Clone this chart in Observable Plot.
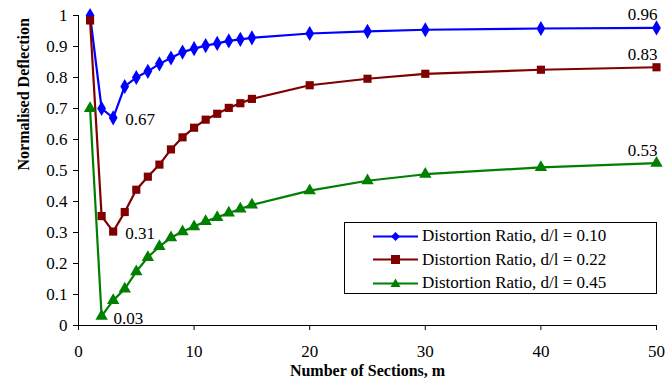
<!DOCTYPE html>
<html>
<head>
<meta charset="utf-8">
<script src="https://cdn.jsdelivr.net/npm/d3@7"></script>
<script src="https://cdn.jsdelivr.net/npm/@observablehq/plot@0.6"></script>
</head>
<body style="margin:0;padding:0;background:#fff;font-family:'Liberation Serif','Times New Roman',serif">
<div id="wrap" style="position:relative;width:667px;height:383px;font-family:'Liberation Serif','Times New Roman',serif">
  <div id="legend" style="position:absolute;left:344px;top:222px;width:311px;height:70px;border:1px solid #000;background:#fff;font-family:'Liberation Serif','Times New Roman',serif;font-size:17px;color:#000;z-index:2">
    <div style="position:absolute;left:28px;top:1px;height:24px;display:flex;align-items:center;white-space:nowrap"><svg width="45" height="21" style="margin-right:4px"><line x1="0" x2="45" y1="10.5" y2="10.5" stroke="#0000ff" stroke-width="2"/><polygon points="22.5,6 27,10.5 22.5,15 18,10.5" fill="#0000ff"/></svg><span style="font-family:'Liberation Serif','Times New Roman',serif">Distortion Ratio, d/l = 0.10</span></div>
    <div style="position:absolute;left:28px;top:24.5px;height:24px;display:flex;align-items:center;white-space:nowrap"><svg width="45" height="21" style="margin-right:4px"><line x1="0" x2="45" y1="10.5" y2="10.5" stroke="#800000" stroke-width="2"/><rect x="18" y="6" width="9" height="9" fill="#800000"/></svg><span style="font-family:'Liberation Serif','Times New Roman',serif">Distortion Ratio, d/l = 0.22</span></div>
    <div style="position:absolute;left:28px;top:48px;height:24px;display:flex;align-items:center;white-space:nowrap"><svg width="45" height="21" style="margin-right:4px"><line x1="0" x2="45" y1="10.5" y2="10.5" stroke="#008000" stroke-width="2"/><polygon points="22.5,5.5 27.5,14 17.5,14" fill="#008000"/></svg><span style="font-family:'Liberation Serif','Times New Roman',serif">Distortion Ratio, d/l = 0.45</span></div>
  </div>
</div>
<script>
const sections = [1,2,3,4,5,6,7,8,9,10,11,12,13,14,15,20,25,30,40,50];
const seriesNames = ["Distortion Ratio, d/l = 0.10", "Distortion Ratio, d/l = 0.22", "Distortion Ratio, d/l = 0.45"];
const ratio010 = [1.0,0.70,0.67,0.771,0.80,0.82,0.844,0.863,0.882,0.893,0.903,0.91,0.918,0.923,0.928,0.942,0.949,0.954,0.958,0.96];
const ratio022 = [0.984,0.353,0.303,0.366,0.438,0.48,0.519,0.568,0.607,0.638,0.664,0.683,0.702,0.717,0.731,0.775,0.796,0.812,0.825,0.833];
const ratio045 = [0.70,0.03,0.081,0.118,0.174,0.22,0.255,0.283,0.303,0.319,0.336,0.349,0.363,0.376,0.389,0.435,0.467,0.488,0.510,0.524];
const colors = ["#0000ff", "#800000", "#008000"];
const symbols = ["diamond", "square", "triangle"];
const xTicks = [0,10,20,30,40,50];
const yTicks = [0,0.1,0.2,0.3,0.4,0.5,0.6,0.7,0.8,0.9,1];
const minLabels = [
  {x: 3, y: 0.67, text: "0.67"},
  {x: 3, y: 0.303, text: "0.31"},
  {x: 2, y: 0.03, text: "0.03"}
];
const endLabels = [
  {x: 50, y: 0.96, text: "0.96"},
  {x: 50, y: 0.833, text: "0.83"},
  {x: 50, y: 0.524, text: "0.53"}
];

const allSeries = [ratio010, ratio022, ratio045];
const rows = allSeries.flatMap((vals, i) => vals.map((v, j) => ({x: sections[j], y: v, s: seriesNames[i], i})));

const font = "'Liberation Serif', 'Times New Roman', serif";
const marks = [];
allSeries.forEach((vals, i) => {
  const d = rows.filter(r => r.i === i);
  marks.push(Plot.line(d, {x: "x", y: "y", stroke: colors[i], strokeWidth: 2.2}));
});
allSeries.forEach((vals, i) => {
  const d = rows.filter(r => r.i === i);
  marks.push(Plot.dot(d, {x: "x", y: "y", symbol: symbols[i], fill: colors[i], r: 4.6}));
});
marks.push(
  Plot.ruleY([0], {stroke: "#000", strokeWidth: 1}),
  Plot.ruleX([0], {stroke: "#000", strokeWidth: 1}),
  Plot.axisX(xTicks, {tickSize: 5, tickPadding: 14, fontSize: 17, fontFamily: font, fill: "#000", stroke: "#000", label: null}),
  Plot.axisY(yTicks, {tickSize: 5, tickPadding: 6, fontSize: 17, fontFamily: font, fill: "#000", stroke: "#000", label: null, tickFormat: d => String(+d.toFixed(1))}),
  Plot.text(minLabels, {x: "x", y: "y", text: "text", textAnchor: "start", dx: 12, dy: 2, fontSize: 17, fontFamily: font, fill: "#000"}),
  Plot.text(endLabels, {x: "x", y: "y", text: "text", textAnchor: "end", dx: 1, dy: -13, fontSize: 17, fontFamily: font, fill: "#000"}),
  Plot.text(["Normalised Deflection"], {frameAnchor: "left", rotate: -90, dx: -55, fontSize: 16, fontWeight: "bold", fontFamily: font, fill: "#000"}),
  Plot.text(["Number of Sections, m"], {frameAnchor: "bottom", dy: 50, fontSize: 16, fontWeight: "bold", fontFamily: font, fill: "#000"})
);

const chart = Plot.plot({
  width: 667,
  height: 383,
  marginLeft: 78,
  marginRight: 11,
  marginTop: 15,
  marginBottom: 58,
  x: {domain: [0, 50]},
  y: {domain: [0, 1]},
  style: {fontFamily: font, background: "#fff", overflow: "visible"},
  marks
});
const wrap = document.getElementById("wrap");
wrap.insertBefore(chart, wrap.firstChild);
</script>
</body>
</html>
